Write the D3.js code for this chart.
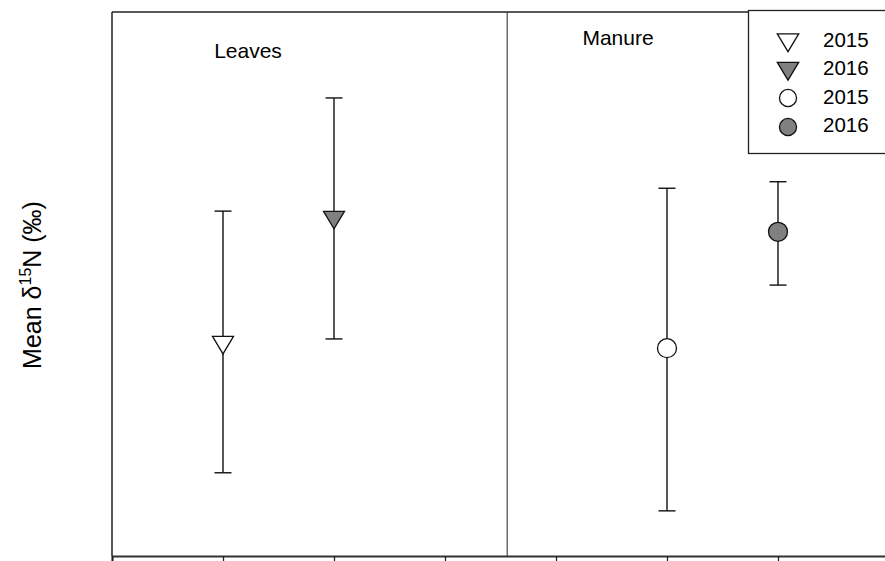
<!DOCTYPE html>
<html><head><meta charset="utf-8">
<script src="https://cdn.jsdelivr.net/npm/d3@7"></script>
<style>body{margin:0;background:#fff}svg{display:block}text{font-family:Arial,"Liberation Sans",sans-serif}</style>
</head><body><svg id="c" width="885" height="561"></svg>
<script>
const categories = ["Leaves 2015","Leaves 2016","Manure 2015","Manure 2016"];
const xPos = [1, 2, 5, 6];
const means = [3.88, 6.18, 3.82, 5.96];
const lower = [1.53, 3.99, 0.83, 4.98];
const upper = [6.34, 8.42, 6.76, 6.88];
const shapes = ["tri","tri","circle","circle"];
const fills = ["#ffffff","#808080","#ffffff","#808080"];
const xTicks = [0,1,2,3,4,5,6,7];
const panelLabels = ["Leaves","Manure"];
const legendLabels = ["2015","2016","2015","2016"];

(function(){
const svg = d3.select("#c");
const pL = 112, pT = 12, pB = 556, pR = 889;
const x = d3.scaleLinear().domain([0,7]).range([pL,pR]);
const y = d3.scaleLinear().domain([0,10]).range([pB,pT]);

// frame
svg.append("line").attr("x1",pL).attr("x2",885).attr("y1",pT).attr("y2",pT).attr("stroke","#222").attr("stroke-width",1.3);
svg.append("line").attr("x1",pL).attr("x2",pL).attr("y1",pT).attr("y2",pB).attr("stroke","#222").attr("stroke-width",1.5);
// divider
svg.append("line").attr("x1",x(3.56)).attr("x2",x(3.56)).attr("y1",pT).attr("y2",pB).attr("stroke","#222").attr("stroke-width",1);

// bottom axis
const ax = svg.append("g").attr("transform",`translate(0,${pB})`)
  .call(d3.axisBottom(x).tickValues(xTicks).tickSize(6).tickFormat(""));
ax.select(".domain").attr("stroke","#333").attr("stroke-width",2);
ax.selectAll(".tick line").attr("stroke","#222").attr("stroke-width",1.3);

// error bars
const g = svg.append("g");
categories.forEach((c,i)=>{
  const cx = x(xPos[i]);
  g.append("line").attr("x1",cx).attr("x2",cx).attr("y1",y(lower[i])).attr("y2",y(upper[i])).attr("stroke","#111").attr("stroke-width",1.4);
  [lower[i],upper[i]].forEach(v=>{
    g.append("line").attr("x1",cx-8.5).attr("x2",cx+8.5).attr("y1",y(v)).attr("y2",y(v)).attr("stroke","#111").attr("stroke-width",1.4);
  });
});

function drawMarker(sel, shape, fill, cx, cy, s){
  if(shape==="tri"){
    sel.append("path").attr("d",`M${cx-10.5*s},${cy-8.5*s} L${cx+10.5*s},${cy-8.5*s} L${cx},${cy+9*s} Z`)
      .attr("fill",fill).attr("stroke","#111").attr("stroke-width",1.3);
  } else {
    sel.append("circle").attr("cx",cx).attr("cy",cy).attr("r",9.5*s)
      .attr("fill",fill).attr("stroke","#111").attr("stroke-width",1.3);
  }
}
categories.forEach((c,i)=>drawMarker(g, shapes[i], fills[i], x(xPos[i]), y(means[i]), 1));

// panel labels
svg.append("text").attr("x",248).attr("y",58).attr("text-anchor","middle").attr("font-size",21).text(panelLabels[0]);
svg.append("text").attr("x",618).attr("y",45).attr("text-anchor","middle").attr("font-size",21).text(panelLabels[1]);

// legend
const lg = svg.append("g");
lg.append("rect").attr("x",748.5).attr("y",10.5).attr("width",150).attr("height",143).attr("fill","#fff").attr("stroke","#222").attr("stroke-width",1.3);
const rowY = [42.5, 71, 98, 127];
legendLabels.forEach((l,i)=>{
  drawMarker(lg, shapes[i], fills[i], 788, rowY[i], i<2 ? 1.02 : 0.9);
  lg.append("text").attr("x",823).attr("y",[47,75,104,132][i]).attr("font-size",20.5).text(l);
});

// y label
const yl = svg.append("text").attr("transform","translate(41,285) rotate(-90)").attr("text-anchor","middle").attr("font-size",25);
yl.append("tspan").text("Mean \u03B4");
yl.append("tspan").attr("font-size",16).attr("dy",-10).text("15");
yl.append("tspan").attr("dy",10).text("N (\u2030)");
})();
</script></body></html>
